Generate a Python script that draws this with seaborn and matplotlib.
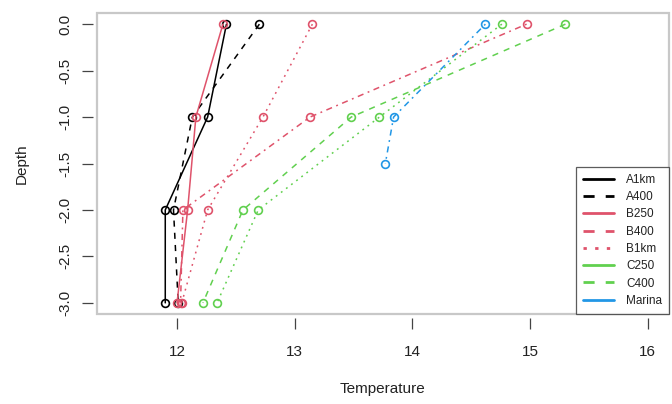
import matplotlib
matplotlib.use("Agg")
import matplotlib.pyplot as plt
from matplotlib.lines import Line2D
from matplotlib.patches import Rectangle
import seaborn as sns
import pandas as pd

sns.set_theme(style="white")
plt.rcParams['font.family'] = ['Liberation Sans', 'DejaVu Sans']

# ---- data ----
series = ["A1km", "A400", "B250", "B400", "B1km", "C250", "C400", "Marina"]
depth_std = [0.0, -1.0, -2.0, -3.0]
depth_marina = [0.0, -1.0, -1.5]
A1km = [12.42, 12.26, 11.90, 11.90]
A400 = [12.70, 12.13, 11.97, 12.01]
B250 = [12.39, 12.16, 12.09, 12.00]
B400 = [14.97, 13.13, 12.05, 12.03]
B1km = [13.15, 12.73, 12.26, 12.04]
C250 = [14.76, 13.72, 12.69, 12.34]
C400 = [15.30, 13.48, 12.56, 12.22]
Marina = [14.62, 13.84, 13.77]
xticks = [12, 13, 14, 15, 16]
yticks = [0.0, -0.5, -1.0, -1.5, -2.0, -2.5, -3.0]

values = {"A1km": A1km, "A400": A400, "B250": B250, "B400": B400,
          "B1km": B1km, "C250": C250, "C400": C400, "Marina": Marina}
depths = {s: (depth_marina if s == "Marina" else depth_std) for s in series}

BLACK, RED, GREEN, BLUE = "#000000", "#DF536B", "#61D04F", "#2297E6"
colors = {"A1km": BLACK, "A400": BLACK, "B250": RED, "B400": RED, "B1km": RED,
          "C250": GREEN, "C400": GREEN, "Marina": BLUE}
SOLID = "-"
DASH = (0, (4, 4))
DOT = (0, (1.2, 3))
DOTDASH = (0, (1.2, 3, 4, 3))
plot_styles = {"A1km": SOLID, "A400": DASH, "B250": SOLID, "B400": DOTDASH,
               "B1km": DOT, "C250": DOT, "C400": DASH, "Marina": DOTDASH}
legend_styles = {"A1km": SOLID, "A400": DASH, "B250": SOLID, "B400": DASH,
                 "B1km": DOT, "C250": SOLID, "C400": DASH, "Marina": SOLID}

rows = []
for s in series:
    for t, d in zip(values[s], depths[s]):
        rows.append({"series": s, "Temperature": t, "Depth": d})
df = pd.DataFrame(rows)

fig = plt.figure(figsize=(6.72, 4.04), dpi=100)
ax = fig.add_axes([97/672, 1 - 314/404, (669 - 97)/672, (314 - 13)/404])

for s in series:
    sub = df[df["series"] == s]
    sns.lineplot(data=sub, x="Temperature", y="Depth", sort=False, estimator=None,
                 color=colors[s], linestyle=plot_styles[s], linewidth=1.1,
                 marker="o", markersize=5.6, markerfacecolor="none",
                 markeredgecolor=colors[s], markeredgewidth=1.2, ax=ax, legend=False)

ax.set_xlim(11.32, 16.18)
ax.set_ylim(-3.12, 0.12)
ax.set_xticks(xticks)
ax.set_xticklabels([str(v) for v in xticks])
ax.set_yticks(yticks)
ax.set_yticklabels([f"{v:.1f}" for v in yticks])

for sp in ax.spines.values():
    sp.set_visible(False)
ax.spines["bottom"].set_position(("outward", 3))
ax.spines["left"].set_position(("outward", 3))
ax.add_patch(Rectangle((0, 0), 1, 1, transform=ax.transAxes, fill=False,
                       edgecolor="#c8c8c8", linewidth=1.6, clip_on=False, zorder=0))

ax.tick_params(axis="both", which="both", direction="out", length=8, width=0.9,
               color="#444444", labelsize=11, labelcolor="#222222",
               bottom=True, left=True)
ax.tick_params(axis="x", pad=11)
ax.tick_params(axis="y", labelrotation=90, pad=7)
for lab in ax.get_yticklabels():
    lab.set_va("center")

ax.set_xlabel("Temperature", fontsize=11, color="#222222", labelpad=17)
ax.set_ylabel("Depth", fontsize=11, color="#222222", labelpad=21)

handles = [Line2D([0], [0], color=colors[s], linestyle=legend_styles[s], linewidth=2.0)
           for s in series]
leg = ax.legend(handles, series, loc="lower right", bbox_to_anchor=(1, 0),
                borderaxespad=0, frameon=True, fancybox=False, fontsize=8.5,
                handlelength=2.6, handletextpad=1.0, labelspacing=0.45,
                borderpad=0.6)
leg.get_frame().set_edgecolor("#333333")
leg.get_frame().set_linewidth(0.9)
for t in leg.get_texts():
    t.set_color("#222222")

fig.savefig("out.png", dpi=100)
